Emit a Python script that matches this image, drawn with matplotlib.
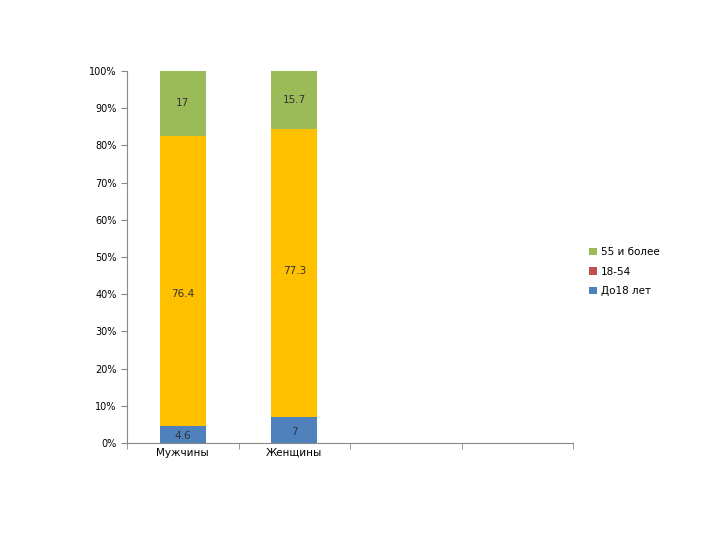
import numpy as np
import matplotlib.pyplot as plt

categories = ['Мужчины', 'Женщины', '', '']
under18 = [4.6, 7, 0, 0]
mid = [76.4, 77.3, 0, 0]
over55 = [17, 15.7, 0, 0]

plt.rcParams['font.family'] = ['DejaVu Sans']
fig = plt.figure(figsize=(7.2, 5.4), dpi=100)
ax = fig.add_axes([127/720, 1-443/540, 446/720, 372/540])

x = np.arange(len(categories))
tot = np.array(under18) + np.array(mid) + np.array(over55)
tot[tot == 0] = 1
u = np.array(under18) / tot * 100
m = np.array(mid) / tot * 100
o = np.array(over55) / tot * 100

w = 0.41
ax.bar(x, u, w, color='#4f81bd', label='До18 лет')
ax.bar(x, m, w, bottom=u, color='#ffc000')
ax.bar(x, o, w, bottom=u + m, color='#9bbb59', label='55 и более')
ax.bar([0], [0], color='#c0504d', label='18-54')

for i in range(2):
    ax.text(x[i], u[i] / 2 - 0.5, f'{under18[i]:g}', ha='center', va='center', fontsize=7.5, color='#333333')
    ax.text(x[i], u[i] + m[i] / 2 + [0, 4][i] + 0.5 - 4, f'{mid[i]:g}', ha='center', va='center', fontsize=7.5, color='#333333')
    ax.text(x[i], u[i] + m[i] + o[i] / 2, f'{over55[i]:g}', ha='center', va='center', fontsize=7.5, color='#333333')

ax.set_xlim(-0.5, 3.5)
ax.set_ylim(0, 100)
ax.set_yticks(range(0, 101, 10))
ax.set_yticklabels([f'{v}%' for v in range(0, 101, 10)], fontsize=7)
ax.set_xticks(x)
ax.set_xticklabels(categories, fontsize=7.5)
ax.set_xticks(np.arange(-0.5, 3.6, 1), minor=True)
ax.tick_params(axis='x', which='major', length=0)
ax.tick_params(axis='x', which='minor', length=4, color='#888888')
ax.tick_params(axis='y', length=4, color='#888888')
for s in ['top', 'right']:
    ax.spines[s].set_visible(False)
for s in ['left', 'bottom']:
    ax.spines[s].set_color('#888888')

h, l = ax.get_legend_handles_labels()
order = [1, 2, 0]
fig.legend([h[i] for i in order], [l[i] for i in order], loc='upper left',
           bbox_to_anchor=(580/720, 1-238/540), frameon=False, fontsize=7.5,
           handlelength=0.7, handleheight=0.7, handletextpad=0.4, labelspacing=0.9)

fig.savefig('out.png', dpi=100)
